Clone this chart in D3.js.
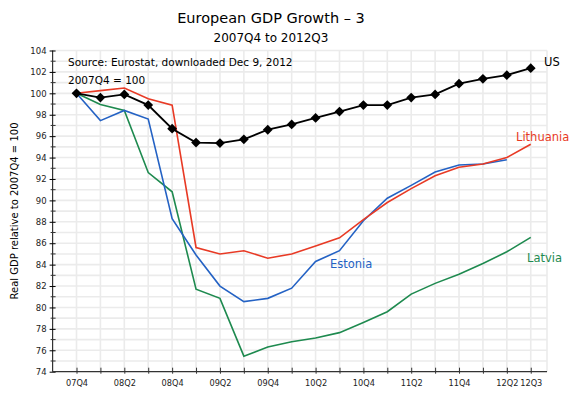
<!DOCTYPE html>
<html>
<head>
<meta charset="utf-8">
<script src="https://cdn.jsdelivr.net/npm/d3@7"></script>
<style>
  body { margin: 0; background: #fff; }
  svg text { font-family: "DejaVu Sans", sans-serif; }
</style>
</head>
<body>
<div id="chart"></div>
<script>
// quarters from 2007Q4 to 2012Q3
var quarters = ['07Q4','08Q1','08Q2','08Q3','08Q4','09Q1','09Q2','09Q3','09Q4','10Q1',
                '10Q2','10Q3','10Q4','11Q1','11Q2','11Q3','11Q4','12Q1','12Q2','12Q3'];
var tick_labels = ['07Q4','08Q2','08Q4','09Q2','09Q4','10Q2','10Q4','11Q2','11Q4','12Q2','12Q3'];

var us = [100, 99.6, 99.9, 98.9, 96.7, 95.4, 95.35, 95.7, 96.6, 97.1,
          97.7, 98.3, 98.9, 98.9, 99.6, 99.9, 100.9, 101.35, 101.7, 102.35];
var lithuania = [100, 100.25, 100.5, 99.5, 98.9, 85.6, 85.0, 85.3, 84.6, 85.0,
                 85.75, 86.5, 88.2, 89.8, 91.1, 92.3, 93.1, 93.4, 94.0, 95.25];
var estonia = [100, 97.45, 98.4, 97.6, 88.3, 84.9, 82.0, 80.55, 80.85, 81.8,
               84.3, 85.3, 88.1, 90.2, 91.4, 92.65, 93.3, 93.4, 93.8];
var latvia = [100, 98.95, 98.4, 92.6, 90.8, 81.7, 80.85, 75.45, 76.3, 76.8,
              77.15, 77.65, 78.6, 79.6, 81.25, 82.25, 83.1, 84.1, 85.2, 86.55];

var width = 584, height = 401;
var svg = d3.select('#chart').append('svg')
    .attr('width', width)
    .attr('height', height);

var x = d3.scaleLinear().domain([-1, 19.68]).range([52.6, 547]);
var y = d3.scaleLinear().domain([74, 104]).range([371.7, 50.5]);

// grid
var grid = svg.append('g').attr('class', 'grid');
grid.selectAll('line.h')
    .data(d3.range(75, 105))
    .enter().append('line')
    .attr('x1', x(-1)).attr('x2', x(19.68))
    .attr('y1', function(d) { return y(d); })
    .attr('y2', function(d) { return y(d); })
    .style('stroke', '#ebebeb')
    .style('stroke-width', 1.6);
grid.selectAll('line.v')
    .data(d3.range(0, 20).concat([19.68]))
    .enter().append('line')
    .attr('y1', y(74)).attr('y2', y(104))
    .attr('x1', function(d) { return x(d); })
    .attr('x2', function(d) { return x(d); })
    .style('stroke', '#ebebeb')
    .style('stroke-width', 1.6);

// axes
var yAxis = d3.axisLeft(y)
    .tickValues(d3.range(74, 105, 2))
    .tickSize(3)
    .tickPadding(3);
var yg = svg.append('g')
    .attr('transform', 'translate(' + x(-1) + ',0)')
    .call(yAxis);
yg.selectAll('.tick line').attr('x1', 3);
yg.selectAll('.tick text').style('font-size', '8.5px').style('fill', '#222');
yg.select('.domain').style('stroke', '#333').style('stroke-width', 1.2).attr('d', 'M0,' + y(74) + 'V' + y(104));
// minor ticks on odd values
yg.selectAll('line.minor')
    .data(d3.range(75, 104, 2))
    .enter().append('line')
    .attr('x1', -2).attr('x2', 3)
    .attr('y1', function(d) { return y(d); })
    .attr('y2', function(d) { return y(d); })
    .style('stroke', '#333');

var xAxis = d3.axisBottom(x)
    .tickValues(d3.range(0, 20))
    .tickSize(2)
    .tickPadding(6)
    .tickFormat(function(d) {
        return tick_labels.indexOf(quarters[d]) >= 0 ? quarters[d] : '';
    });
var xg = svg.append('g')
    .attr('transform', 'translate(0,' + y(74) + ')')
    .call(xAxis);
xg.selectAll('.tick line').attr('y1', -4).style('stroke', '#333');
xg.selectAll('.tick text').style('font-size', '8.2px').style('fill', '#222');
xg.select('.domain').style('stroke', '#333').style('stroke-width', 1.2).attr('d', 'M' + x(-1) + ',0H' + x(19.68));

// lines
var line = d3.line()
    .x(function(d, i) { return x(i); })
    .y(function(d) { return y(d); });

var series = [
    {name: 'Latvia', values: latvia, color: '#1e8a4f'},
    {name: 'Estonia', values: estonia, color: '#2462c4'},
    {name: 'Lithuania', values: lithuania, color: '#e83a25'},
    {name: 'US', values: us, color: '#000'}
];

svg.selectAll('path.series')
    .data(series)
    .enter().append('path')
    .attr('class', 'series')
    .attr('d', function(d) { return line(d.values); })
    .style('fill', 'none')
    .style('stroke', function(d) { return d.color; })
    .style('stroke-width', function(d) { return d.name == 'US' ? 1.8 : 1.6; });

// diamonds on US
svg.selectAll('path.diamond')
    .data(us)
    .enter().append('path')
    .attr('class', 'diamond')
    .attr('d', d3.symbol().type(d3.symbolSquare).size(48))
    .attr('transform', function(d, i) {
        return 'translate(' + x(i) + ',' + y(d) + ') rotate(45)';
    })
    .style('fill', '#000');

// series labels
var labels = [
    {text: 'US', x: 544, y: 66, color: '#000'},
    {text: 'Lithuania', x: 516, y: 141, color: '#e83a25'},
    {text: 'Estonia', x: 330, y: 268, color: '#2462c4'},
    {text: 'Latvia', x: 527, y: 262, color: '#1e8a4f'}
];
svg.selectAll('text.label')
    .data(labels)
    .enter().append('text')
    .attr('class', 'label')
    .attr('x', function(d) { return d.x; })
    .attr('y', function(d) { return d.y; })
    .style('fill', function(d) { return d.color; })
    .style('font-size', '11.5px')
    .text(function(d) { return d.text; });

// titles and notes
svg.append('text')
    .attr('x', 271).attr('y', 23)
    .attr('text-anchor', 'middle')
    .style('font-size', '14.5px')
    .text('European GDP Growth \u2013 3');
svg.append('text')
    .attr('x', 271).attr('y', 42)
    .attr('text-anchor', 'middle')
    .style('font-size', '12px')
    .text('2007Q4 to 2012Q3');
svg.append('text')
    .attr('x', 68).attr('y', 66)
    .style('font-size', '10.5px')
    .text('Source:  Eurostat, downloaded Dec 9, 2012');
svg.append('text')
    .attr('x', 68).attr('y', 84)
    .style('font-size', '10.5px')
    .text('2007Q4 = 100');

svg.append('text')
    .attr('transform', 'translate(18,' + 211 + ') rotate(-90)')
    .attr('text-anchor', 'middle')
    .style('font-size', '10px')
    .text('Real GDP relative to 2007Q4 = 100');
</script>
</body>
</html>
